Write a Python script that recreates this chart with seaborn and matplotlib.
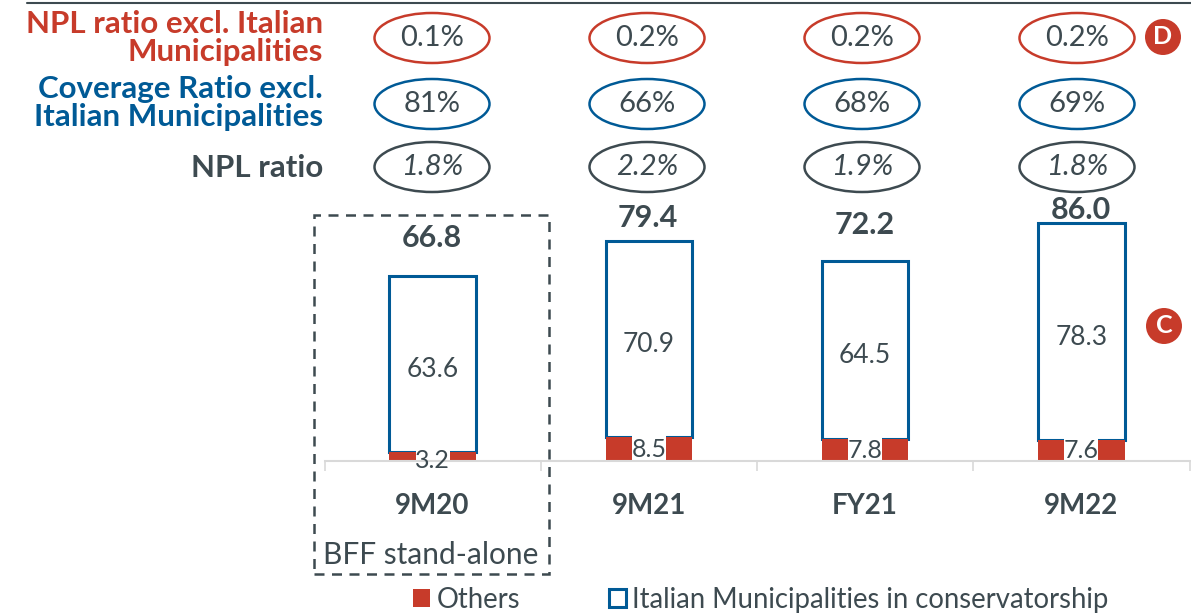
import pandas as pd
import matplotlib
matplotlib.use("Agg")
import matplotlib.pyplot as plt
from matplotlib.lines import Line2D
from matplotlib.patches import Ellipse, Rectangle
import seaborn as sns

# Data
periods = ["9M20", "9M21", "FY21", "9M22"]
others = [3.2, 8.5, 7.8, 7.6]
municipalities = [63.6, 70.9, 64.5, 78.3]
totals = ["66.8", "79.4", "72.2", "86.0"]
npl_excl = ["0.1%", "0.2%", "0.2%", "0.2%"]
coverage_excl = ["81%", "66%", "68%", "69%"]
npl_ratio = ["1.8%", "2.2%", "1.9%", "1.8%"]

# Colours
RED = "#C73B2A"
BLUE = "#005A96"
DARK = "#3D4A50"
GREY = "#D9D9D9"

W, H = 1191, 613
sns.set_theme(style="white")
plt.rcParams["font.family"] = ["Lato", "DejaVu Sans"]

data = pd.DataFrame({"period": periods, "others": others, "municipalities": municipalities})
data["top"] = data["others"] + data["municipalities"]

fig = plt.figure(figsize=(W / 100, H / 100), dpi=100)
ax = fig.add_axes([324.5 / W, (H - 461) / H, 865 / W, 461 / H])
ax.patch.set_alpha(0)


# pixel position in the reference -> figure coordinates
def px(x, y):
    return x / W, 1 - y / H


# Bars
sns.barplot(data=data, x="period", y="top", color="white", saturation=1, width=0.4,
            edgecolor=BLUE, linewidth=2.2, label="Italian Municipalities in conservatorship", ax=ax)
blue_bars = list(ax.patches)
for bar, low, high in zip(blue_bars, others, municipalities):
    bar.set_y(low)
    bar.set_height(high)
sns.barplot(data=data, x="period", y="others", color=RED, saturation=1, width=0.4,
            linewidth=0, label="Others", ax=ax)

ax.set_xlim(-0.5, 3.5)
ax.set_ylim(0, 166.4)
ax.set_xlabel("")
ax.set_ylabel("")
ax.set_yticks([])
sns.despine(ax=ax, left=True, right=True, top=True)
ax.spines["bottom"].set_color(GREY)
ax.spines["bottom"].set_linewidth(1.5)
ax.spines["bottom"].set_zorder(5)
ax.set_xticks([-0.5, 0.5, 1.5, 2.5, 3.5], minor=True)
ax.tick_params(axis="x", which="minor", bottom=True, length=7.5, width=1.2, color=GREY)
ax.tick_params(axis="x", which="major", bottom=False, pad=17, labelsize=20, labelcolor=DARK)
for label in ax.get_xticklabels():
    label.set_fontweight("bold")

# Value labels inside the bars, the small ones sit in a white gap cut out of the red block
for i in range(4):
    ax.text(i, others[i] + municipalities[i] / 2 - 2, f"{municipalities[i]:.1f}", ha="center", va="center",
            fontsize=19, color=DARK, zorder=6)
    ax.bar(i, others[i] + 1.2, width=0.157, color="white", linewidth=0, zorder=4)
    y_low = others[i] / 2 if others[i] > 5 else 0
    ax.text(i, y_low, f"{others[i]:.1f}", ha="center", va="center",
            fontsize=18, color=DARK, zorder=6, clip_on=False)

# Totals above the bars
total_y = [238, 218, 225, 210]
total_x = [432, 648, 865, 1081]
for x, y, txt in zip(total_x, total_y, totals):
    fig.text(*px(x, y), txt, ha="center", va="center", fontsize=22, fontweight="bold", color=DARK, zorder=7)

# Row labels on the left
fig.text(*px(323, 38), "NPL ratio excl. Italian\nMunicipalities", ha="right", va="center", fontsize=22.5,
         fontweight="bold", color=RED, linespacing=1.0)
fig.text(*px(323, 103), "Coverage Ratio excl.\nItalian Municipalities", ha="right", va="center", fontsize=22.5,
         fontweight="bold", color=BLUE, linespacing=1.0)
fig.text(*px(323, 168), "NPL ratio", ha="right", va="center", fontsize=22.5, fontweight="bold", color=DARK)

# Ellipses with the ratios
ell_x = [432, 647, 862, 1077]
rows = [(npl_excl, 38, RED, "normal"), (coverage_excl, 104, BLUE, "normal"), (npl_ratio, 167, DARK, "italic")]
for values, y, col, style in rows:
    for x, txt in zip(ell_x, values):
        cx, cy = px(x, y)
        fig.add_artist(Ellipse((cx, cy), 115 / W, 50 / H, transform=fig.transFigure,
                               facecolor="none", edgecolor=col, linewidth=1.8))
        fig.text(cx, cy, txt, ha="center", va="center", fontsize=21, color=DARK, style=style)

# Red badges
for x, y, letter in [(1163, 37, "D"), (1164, 326, "C")]:
    fig.text(*px(x, y), letter, ha="center", va="center", fontsize=18, fontweight="bold", color="white", zorder=9,
             bbox=dict(boxstyle="circle,pad=0.26", facecolor=RED, edgecolor="none"))

# Stand-alone box and top rule
fig.add_artist(Rectangle(px(314, 574), 235 / W, 359 / H, transform=fig.transFigure, facecolor="none",
                         edgecolor=DARK, linewidth=1.8, linestyle=(0, (4, 3))))
fig.text(*px(431, 555), "BFF stand-alone", ha="center", va="center", fontsize=21.5, color=DARK)
fig.add_artist(Line2D([27 / W, 1], [1 - 2.5 / H] * 2, transform=fig.transFigure, color=DARK, linewidth=1.5))

# Legend
handles, labels = ax.get_legend_handles_labels()
ax.get_legend().remove()
fig.legend(handles[:2][::-1], labels[:2][::-1], loc="lower left", bbox_to_anchor=(413 / W, 0), ncol=2, frameon=False,
           fontsize=19.8, labelcolor=DARK, handlelength=0.62, handleheight=0.62, handletextpad=0.25, columnspacing=3.2,
           borderaxespad=0, borderpad=0)

fig.savefig("out.png", dpi=100)
